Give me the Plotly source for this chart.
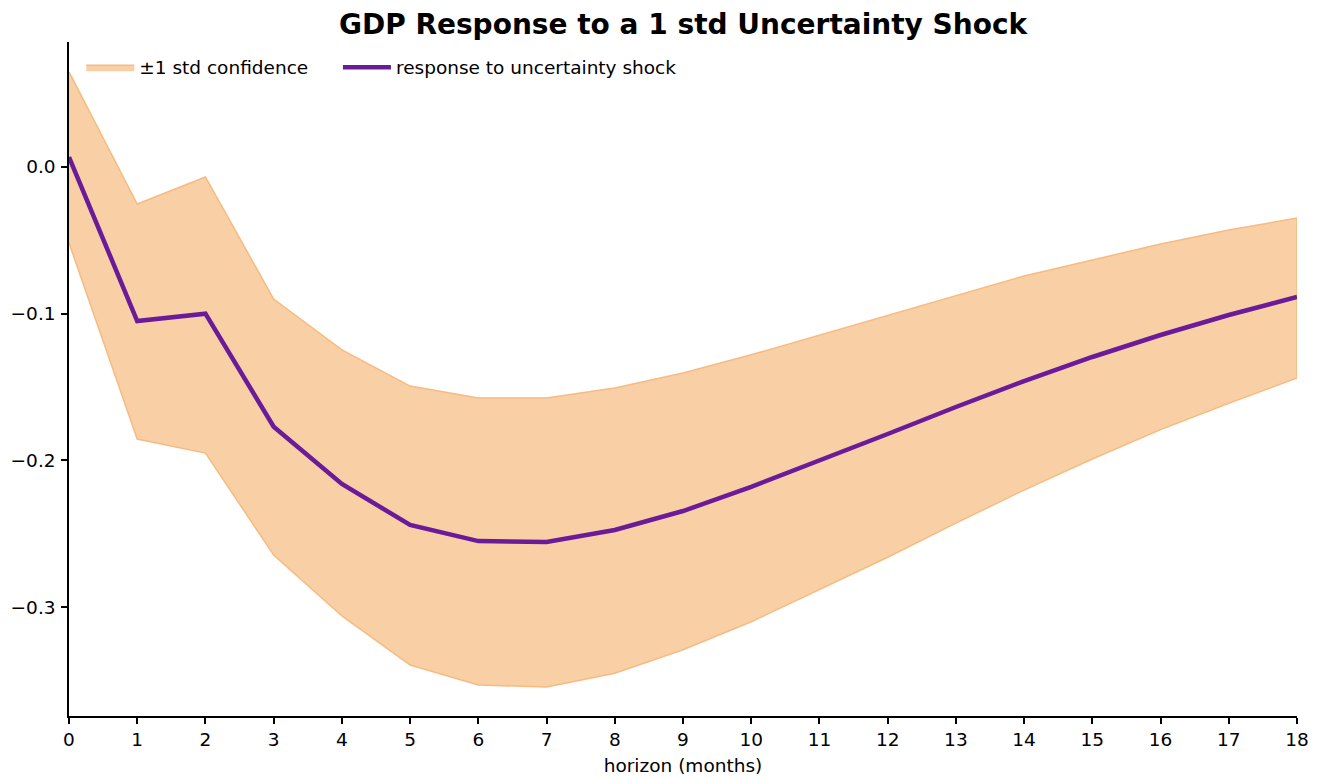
import plotly.graph_objects as go

horizon = list(range(19))
response = [0.0068, -0.105, -0.100, -0.177, -0.216, -0.244, -0.255, -0.2556, -0.2474,
            -0.2345, -0.218, -0.2004, -0.182, -0.1636, -0.1459, -0.1295, -0.1145, -0.1009, -0.0886]
upper = [0.0648, -0.0252, -0.0068, -0.090, -0.1247, -0.1493, -0.1575, -0.1575, -0.1506,
         -0.1404, -0.128, -0.1145, -0.1009, -0.0873, -0.0743, -0.0634, -0.0525, -0.0429, -0.0348]
lower = [-0.0518, -0.1854, -0.195, -0.2645, -0.306, -0.3395, -0.353, -0.3545, -0.345,
         -0.329, -0.310, -0.288, -0.266, -0.2427, -0.2202, -0.199, -0.179, -0.161, -0.1438]
y_ticks = [0.0, -0.1, -0.2, -0.3]
y_tick_labels = ["0.0", "\u22120.1", "\u22120.2", "\u22120.3"]

font = "DejaVu Sans"
fig = go.Figure()
fig.add_trace(go.Scatter(
    x=horizon + horizon[::-1], y=upper + lower[::-1],
    fill="toself", fillcolor="#f9cfa5", mode="lines",
    line=dict(color="#f6bb80", width=1.5),
    name="\u00b11 std confidence", hoverinfo="skip", legend="legend"))
fig.add_trace(go.Scatter(
    x=horizon, y=response, mode="lines",
    line=dict(color="#6a1b9a", width=4.5),
    name="response to uncertainty shock", legend="legend2"))

leg_common = dict(orientation="h", y=0.99, xanchor="left", yanchor="top",
                  bgcolor="rgba(0,0,0,0)", font=dict(size=18.5), itemwidth=48)
fig.update_layout(
    width=1312, height=771,
    paper_bgcolor="white", plot_bgcolor="white",
    margin=dict(l=61, r=23, t=34, b=63),
    font=dict(family=font, size=18.5, color="black"),
    title=dict(text="<b>GDP Response to a 1 std Uncertainty Shock</b>",
               x=0.5145, xanchor="center", y=0.979, yanchor="middle",
               font=dict(family=font, size=28, color="black")),
    legend=dict(x=0.010, **leg_common),
    legend2=dict(x=0.219, **leg_common),
    showlegend=True,
)
fig.update_xaxes(range=[0, 18], tickmode="array", tickvals=horizon,
                 ticks="outside", ticklen=6, tickwidth=1.5, tickcolor="black",
                 showline=True, linecolor="black", linewidth=1.5,
                 showgrid=False, zeroline=False, automargin=False,
                 title=dict(text="horizon (months)", standoff=10, font=dict(size=18.5)))
fig.update_yaxes(range=[-0.3742, 0.0852], tickmode="array", tickvals=y_ticks,
                 ticktext=y_tick_labels, ticklabelstandoff=2,
                 ticks="outside", ticklen=6, tickwidth=1.5, tickcolor="black",
                 showline=True, linecolor="black", linewidth=1.5,
                 showgrid=False, zeroline=False, automargin=False)

fig.write_html("out.html")
